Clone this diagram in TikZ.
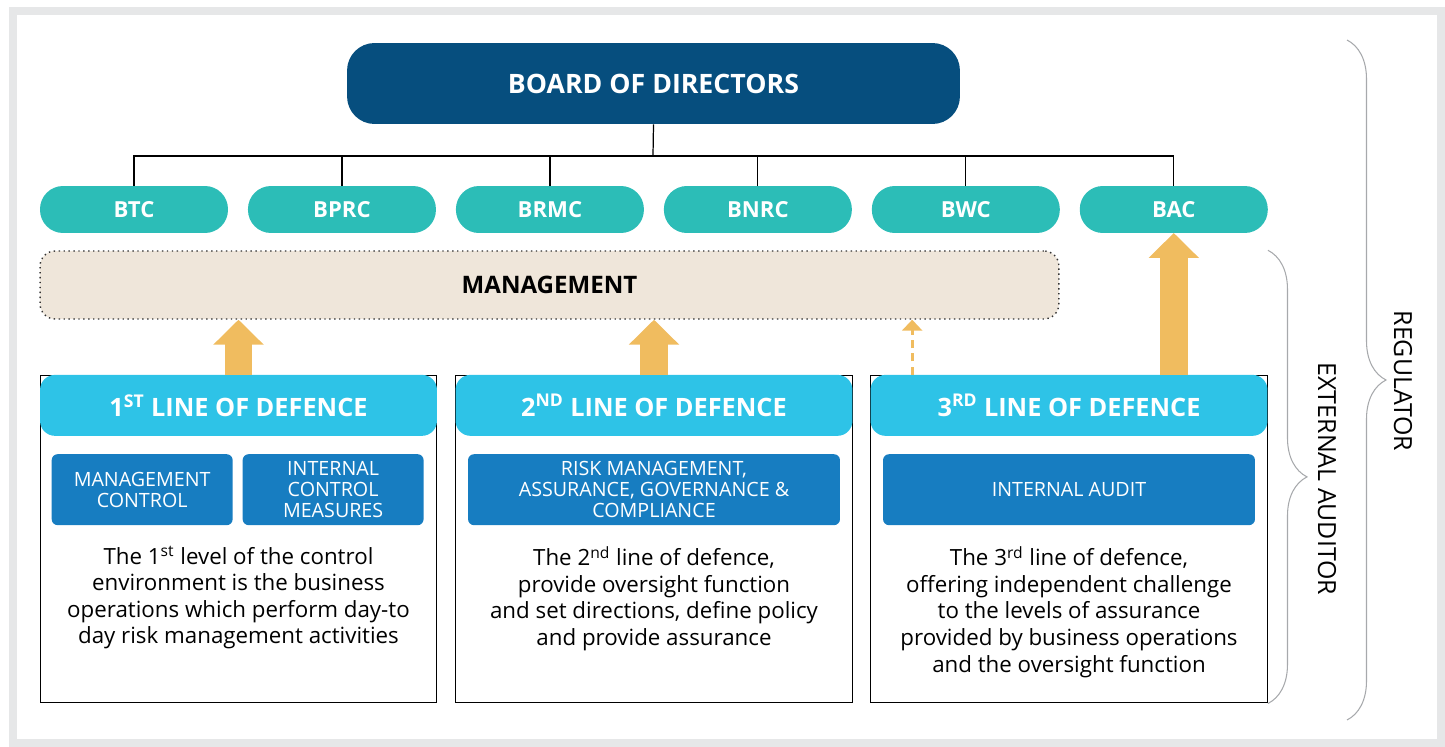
\documentclass[tikz,border=0pt]{standalone}
\usepackage{fontspec}
\setmainfont{Open Sans}
\usepackage{tikz}
\usetikzlibrary{arrows.meta,positioning,decorations.pathreplacing}

\definecolor{boardblue}{HTML}{064E7E}
\definecolor{cteal}{HTML}{2CBDB7}
\definecolor{mgmtbeige}{HTML}{EFE6DA}
\definecolor{arrowgold}{HTML}{F0BC5F}
\definecolor{headcyan}{HTML}{2EC3E7}
\definecolor{subblue}{HTML}{177DC1}
\definecolor{framegrey}{HTML}{E6E7E8}
\definecolor{bracegrey}{HTML}{A7A9AC}

\begin{document}
\begin{tikzpicture}[x=0.02cm, y=-0.02cm,
  board/.style={fill=boardblue, rounded corners=0.55cm, minimum width=12.26cm, minimum height=1.62cm, inner sep=0pt, text=white, font=\fontsize{15.2}{18}\selectfont\bfseries},
  cttee/.style={fill=cteal, rounded corners=0.46cm, minimum width=3.76cm, minimum height=0.94cm, inner sep=0pt, outer sep=0pt, text=white, font=\fontsize{12.6}{15}\selectfont\bfseries},
  mgmt/.style={draw=black!80, dotted, line width=0.8pt, fill=mgmtbeige, rounded corners=0.3cm, minimum width=20.38cm, minimum height=1.36cm, font=\fontsize{13.7}{16}\selectfont\bfseries},
  lodbox/.style={draw, line width=0.6pt, minimum width=7.94cm, minimum height=6.56cm, inner sep=0pt},
  lodhead/.style={fill=headcyan, rounded corners=0.3cm, minimum width=7.94cm, minimum height=1.22cm, inner sep=0pt, text=white, font=\fontsize{14.4}{17}\selectfont\bfseries},
  subbox/.style={fill=subblue, rounded corners=0.12cm, minimum height=1.42cm, inner sep=0pt, outer sep=0pt, text=white, align=center, font=\fontsize{11.2}{12.1}\selectfont},
  desc/.style={align=center, font=\fontsize{12.7}{15.1}\selectfont},
  fatarr/.style={arrowgold, line width=0.56cm, -{Triangle[width=0.98cm, length=0.5cm]}},
  dasharr/.style={arrowgold, line width=1.8pt, dash pattern=on 4.5pt off 3pt, -{Triangle[width=0.4cm, length=0.22cm]}},
  brc/.style={bracegrey, line width=0.6pt, decorate, decoration={brace, amplitude=0.78cm}},
  side/.style={rotate=-90, font=\fontsize{14.2}{16}\selectfont}
]
  \useasboundingbox (0,0) rectangle (1445,747);
  \draw[framegrey, line width=0.16cm] (13,11) rectangle (1441,743);

  % board and committees
  \node[board] (board) at (653.5,83.5) {BOARD OF DIRECTORS};
  \node[cttee] (btc) at (134,209.5) {BTC};
  \node[cttee, right=0.4cm of btc] (bprc) {BPRC};
  \node[cttee, right=0.4cm of bprc] (brmc) {BRMC};
  \node[cttee, right=0.4cm of brmc] (bnrc) {BNRC};
  \node[cttee, right=0.4cm of bnrc] (bwc) {BWC};
  \node[cttee, right=0.4cm of bwc] (bac) {BAC};

  \coordinate (bus) at (653,156);
  \draw[line width=0.7pt] (board.south) -- (bus);
  \draw[line width=0.7pt] (btc.north) |- (bus) -| (bac.north);
  \draw[line width=0.7pt] (bprc.north) -- (bprc.north |- bus);
  \draw[line width=0.7pt] (brmc.north) -- (brmc.north |- bus);
  \draw[line width=0.7pt] (bnrc.north) -- (bnrc.north |- bus);
  \draw[line width=0.7pt] (bwc.north) -- (bwc.north |- bus);

  \node[mgmt] (mgmt) at (549.5,285) {MANAGEMENT};

  % three lines of defence
  \node[lodbox] (box1) at (238.5,539) {};
  \node[lodbox] (box2) at (654,539) {};
  \node[lodbox] (box3) at (1069,539) {};
  \node[lodhead, anchor=north] (head1) at (box1.north) {1\textsuperscript{ST} LINE OF DEFENCE};
  \node[lodhead, anchor=north] (head2) at (box2.north) {2\textsuperscript{ND} LINE OF DEFENCE};
  \node[lodhead, anchor=north] (head3) at (box3.north) {3\textsuperscript{RD} LINE OF DEFENCE};

  \node[subbox, minimum width=3.62cm, below right=0.36cm and 0.24cm of head1.south west] (mc) {MANAGEMENT\\CONTROL};
  \node[subbox, minimum width=3.62cm, right=0.2cm of mc] (icm) {INTERNAL\\CONTROL\\MEASURES};
  \node[subbox, minimum width=7.44cm, below=0.36cm of head2] (rm) {RISK MANAGEMENT,\\ASSURANCE, GOVERNANCE \&\\COMPLIANCE};
  \node[subbox, minimum width=7.44cm, below=0.36cm of head3] (ia) {INTERNAL AUDIT};

  \node[desc, anchor=north] (desc1) at ([yshift=-0.3cm]box1.center |- mc.south) {The 1\textsuperscript{st} level of the control\\environment is the business\\operations which perform day-to\\day risk management activities};
  \node[desc, anchor=north] (desc2) at ([yshift=-0.3cm]box2.center |- rm.south) {The 2\textsuperscript{nd} line of defence,\\provide oversight function\\and set directions, define policy\\and provide assurance};
  \node[desc, anchor=north] (desc3) at ([yshift=-0.3cm]box3.center |- ia.south) {The 3\textsuperscript{rd} line of defence,\\offering independent challenge\\to the levels of assurance\\provided by business operations\\and the oversight function};

  % reporting arrows
  \draw[fatarr] (head1.north) -- (head1.north |- mgmt.south);
  \draw[fatarr] (head2.north) -- (head2.north |- mgmt.south);
  \draw[dasharr] ([xshift=0.84cm]head3.north west) -- ([xshift=0.84cm]head3.north west |- mgmt.south);
  \draw[fatarr] (bac.south |- head3.north) -- (bac.south);

  % external oversight
  \coordinate (regtop) at (1347,40);
  \coordinate (regbot) at (1347,720);
  \draw[brc] (box3.east |- mgmt.north) -- (box3.south east);
  \draw[brc] (regtop) -- (regbot);
  \node[side] (extaud) at (1327,479) {EXTERNAL AUDITOR};
  \node[side] (reg) at (1403,381) {REGULATOR};
\end{tikzpicture}
\end{document}
